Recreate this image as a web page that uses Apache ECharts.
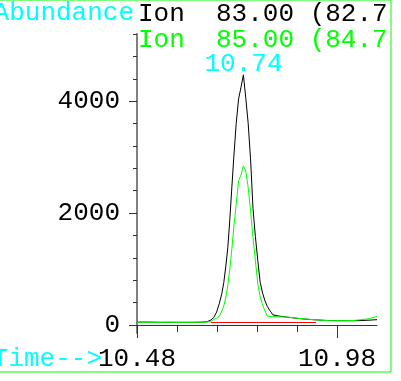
<!DOCTYPE html>
<html>
<head>
<meta charset="utf-8">
<script src="https://cdn.jsdelivr.net/npm/echarts@6/dist/echarts.min.js"></script>
<style>
  html, body { margin: 0; padding: 0; background: #ffffff; }
  #chart { width: 401px; height: 381px; }
</style>
</head>
<body>
<div id="chart"></div>
<script>
// Retention times (min) shared by both extracted-ion traces
const times = [10.48, 10.50, 10.52, 10.54, 10.56, 10.58, 10.60, 10.62, 10.64, 10.655,
  10.665, 10.672, 10.679, 10.686, 10.692, 10.697, 10.702, 10.707, 10.712, 10.717,
  10.722, 10.728, 10.734, 10.740, 10.746, 10.752, 10.758, 10.764, 10.770, 10.776,
  10.782, 10.788, 10.794, 10.800, 10.806, 10.812, 10.820, 10.830, 10.840, 10.860,
  10.880, 10.900, 10.920, 10.940, 10.960, 10.980, 11.000, 11.020, 11.040, 11.060, 11.080];

// Abundance of ion 83.00
const ion83 = [50, 52, 50, 48, 49, 48, 47, 48, 50, 58,
  90, 135, 230, 390, 560, 760, 1050, 1380, 1880, 2450,
  3000, 3600, 4040, 4250, 4470, 4050, 3600, 2950, 2080, 1580,
  1150, 760, 570, 430, 330, 260, 180, 165, 155, 136,
  120, 105, 95, 86, 80, 77, 77, 77, 80, 86, 95];

// Abundance of ion 85.00
const ion85 = [48, 50, 48, 47, 48, 47, 48, 48, 49, 54,
  62, 100, 125, 155, 250, 340, 500, 700, 1000, 1350,
  1750, 2150, 2580, 2680, 2845, 2750, 2460, 2030, 1560, 1150,
  730, 500, 360, 250, 160, 150, 150, 148, 145, 139,
  121, 107, 96, 86, 77, 77, 77, 80, 95, 112, 154];

// Integration baseline under the peak
const baselineTimes = [10.665, 10.9275];
const baselineLevel = [45, 45];

// Axis ticks
const yMajorTicks = [0, 2000, 4000];
const yMinorTicks = [400, 800, 1200, 1600, 2400, 2800, 3200, 3600, 4400, 4800, 5200];
const xMajorTicks = [10.48, 10.98];
const xMinorTicks = [10.58, 10.68, 10.78, 10.88];

// Header texts
const yTitle = 'Abundance';
const xTitle = 'Time-->';
const ionLabels = ['Ion  83.00 (82.7', 'Ion  85.00 (84.7'];
const peakLabel = '10.74';

const pairs = (xs, ys) => xs.map((x, i) => [x, ys[i]]);

const FONT = '"Liberation Mono", "DejaVu Sans Mono", monospace';
const FS = 26;

const chart = echarts.init(document.getElementById('chart'), null, { renderer: 'canvas' });

const yCommon = { type: 'value', min: -143, max: 5200, position: 'left', splitLine: { show: false } };
const xCommon = { type: 'value', min: 10.48, max: 11.08, position: 'bottom', offset: 0, splitLine: { show: false } };

chart.setOption({
  animation: false,
  backgroundColor: '#ffffff',
  grid: { left: 137, width: 240, top: 34, bottom: 48, containLabel: false },
  xAxis: [
    Object.assign({}, xCommon, {
      axisLine: { show: true, lineStyle: { color: '#333333', width: 1 } },
      axisTick: { show: true, customValues: xMinorTicks, length: 7, lineStyle: { color: '#333333' } },
      axisLabel: { show: false }
    }),
    Object.assign({}, xCommon, {
      axisLine: { show: false },
      axisTick: { show: true, customValues: xMajorTicks, length: 13, lineStyle: { color: '#333333' } },
      axisLabel: {
        show: true, customValues: xMajorTicks, margin: 13,
        formatter: v => v.toFixed(2),
        color: '#000000', fontFamily: FONT, fontSize: FS
      }
    })
  ],
  yAxis: [
    Object.assign({}, yCommon, {
      axisLine: { show: true, lineStyle: { color: '#808080', width: 2 } },
      axisTick: { show: true, customValues: yMinorTicks, length: 4, lineStyle: { color: '#333333' } },
      axisLabel: { show: false }
    }),
    Object.assign({}, yCommon, {
      axisLine: { show: false },
      axisTick: { show: true, customValues: yMajorTicks, length: 8, lineStyle: { color: '#333333' } },
      axisLabel: {
        show: true, customValues: yMajorTicks, margin: 17,
        formatter: v => String(v),
        color: '#000000', fontFamily: FONT, fontSize: FS
      }
    })
  ],
  series: [
    {
      name: ionLabels[0], type: 'line', xAxisIndex: 0, yAxisIndex: 0,
      data: pairs(times, ion83), showSymbol: false, smooth: false,
      lineStyle: { color: '#000000', width: 1 }, z: 2
    },
    {
      name: ionLabels[1], type: 'line', xAxisIndex: 0, yAxisIndex: 0,
      data: pairs(times, ion85), showSymbol: false, smooth: false,
      lineStyle: { color: '#00ff00', width: 1 }, z: 3
    },
    {
      name: 'baseline', type: 'line', xAxisIndex: 0, yAxisIndex: 0,
      data: pairs(baselineTimes, baselineLevel), showSymbol: false,
      lineStyle: { color: '#ff0000', width: 1 }, z: 4
    }
  ],
  graphic: [
    {
      type: 'polyline', silent: true,
      shape: { points: [[-2, 0], [391, 0], [391, 372], [-2, 372]] },
      style: { stroke: '#00ff00', lineWidth: 1, fill: null }
    },
    {
      type: 'text', x: 134, y: 13,
      style: { text: yTitle, fill: '#00ffff', font: FS + 'px ' + FONT, align: 'right', verticalAlign: 'middle' }
    },
    {
      type: 'text', x: 138, y: 14,
      style: { text: ionLabels[0], fill: '#000000', font: FS + 'px ' + FONT, align: 'left', verticalAlign: 'middle' }
    },
    {
      type: 'text', x: 138, y: 40.5,
      style: { text: ionLabels[1], fill: '#00ff00', font: FS + 'px ' + FONT, align: 'left', verticalAlign: 'middle' }
    },
    {
      type: 'text', x: 243.5, y: 64.5,
      style: { text: peakLabel, fill: '#00ffff', font: FS + 'px ' + FONT, align: 'center', verticalAlign: 'middle' }
    },
    {
      type: 'text', x: 102, y: 359,
      style: { text: xTitle, fill: '#00ffff', font: FS + 'px ' + FONT, align: 'right', verticalAlign: 'middle' }
    }
  ]
});
</script>
</body>
</html>
